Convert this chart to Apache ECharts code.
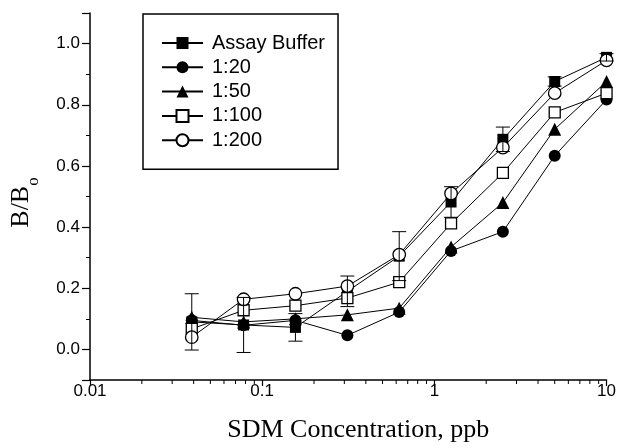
<!DOCTYPE html>
<html><head><meta charset="utf-8">
<script src="https://cdn.jsdelivr.net/npm/echarts@6/dist/echarts.min.js"></script>
<style>html,body{margin:0;padding:0;background:#fff}#c{width:619px;height:448px}</style>
</head><body><div id="c"></div>
<script>
const concentrations = [0.039, 0.078, 0.156, 0.3125, 0.625, 1.25, 2.5, 5, 10];
const assayBuffer   = [0.09, 0.08, 0.072, 0.19, 0.305, 0.482, 0.687, 0.876, 0.955];
const assayBufferSD = [0.092, 0.09, 0.045, 0.05, 0.08, 0.05, 0.04, 0.015, 0.012];
const dil1to20  = [0.095, 0.079, 0.095, 0.046, 0.122, 0.322, 0.385, 0.633, 0.817];
const dil1to50  = [0.105, 0.09, 0.1, 0.113, 0.135, 0.335, 0.48, 0.72, 0.876];
const dil1to100 = [0.067, 0.128, 0.143, 0.168, 0.22, 0.412, 0.577, 0.775, 0.838];
const dil1to200 = [0.04, 0.164, 0.182, 0.207, 0.31, 0.51, 0.66, 0.838, 0.945];
const xMinorTicks = [0.02,0.03,0.04,0.05,0.06,0.07,0.08,0.09,0.2,0.3,0.4,0.5,0.6,0.7,0.8,0.9,2,3,4,5,6,7,8,9];
const seriesNames = ['Assay Buffer', '1:20', '1:50', '1:100', '1:200'];

const pts = arr => concentrations.map((c, i) => [c, arr[i]]);
const SANS = 'Liberation Sans';
const SERIF = 'Liberation Serif';

function lineSeries(name, arr, symbol, size, open) {
  return {
    name, type: 'line', data: pts(arr), symbol, symbolSize: size,
    itemStyle: open ? {color: '#fff', borderColor: '#000', borderWidth: 1.3} : {color: '#000', borderColor: '#000', borderWidth: 0},
    lineStyle: {color: '#000', width: 1},
    emphasis: {disabled: true}, animation: false
  };
}

const chart = echarts.init(document.getElementById('c'), null, {renderer: 'canvas'});
chart.setOption({
  animation: false,
  grid: {left: 90, right: 11, top: 13, bottom: 65, containLabel: false},
  legend: {
    orient: 'vertical', left: 143, top: 14,
    padding: [19, 13, 19, 18],
    borderColor: '#000', borderWidth: 1.5,
    itemWidth: 41, itemHeight: 15, itemGap: 4.3,
    textStyle: {fontFamily: SANS, fontSize: 20, color: '#000', lineHeight: 20, padding: [0, 0, 0, 4]},
    data: seriesNames,
    selectedMode: false
  },
  xAxis: {
    type: 'log', logBase: 10, min: 0.01, max: 10,
    name: 'SDM Concentration, ppb', nameLocation: 'middle', nameGap: 37,
    nameTextStyle: {fontFamily: SERIF, fontSize: 26, color: '#000', padding: [0, 0, 0, 20]},
    axisLine: {onZero: false, lineStyle: {color: '#000', width: 1.5}},
    axisTick: {length: 6, lineStyle: {color: '#000', width: 1.2}},
    splitLine: {show: false},
    axisLabel: {margin: 3, fontFamily: SANS, fontSize: 17, color: '#000'}
  },
  yAxis: {
    type: 'value', min: -0.1, max: 1.1,
    name: '{b|B/B}{s|o}', nameLocation: 'middle', nameRotate: 90, nameGap: 48,
    nameTextStyle: {
      fontFamily: SERIF, fontSize: 26, color: '#000', padding: [0, 12, 0, 0],
      rich: {
        b: {fontFamily: SERIF, fontSize: 26, color: '#000', lineHeight: 26, verticalAlign: 'top'},
        s: {fontFamily: SERIF, fontSize: 17, color: '#000', lineHeight: 34, verticalAlign: 'bottom'}
      }
    },
    axisLine: {onZero: false, lineStyle: {color: '#000', width: 1.5}},
    axisTick: {length: 8, lineStyle: {color: '#000', width: 1.2}},
    minorTick: {show: true, splitNumber: 2, length: 4, lineStyle: {color: '#000', width: 1}},
    splitLine: {show: false},
    axisLabel: {
      margin: 10, fontFamily: SANS, fontSize: 17, color: '#000',
      formatter: v => (v < -0.05 || v > 1.05) ? '' : v.toFixed(1)
    }
  },
  series: [
    lineSeries('Assay Buffer', assayBuffer, 'rect', 11, false),
    lineSeries('1:20', dil1to20, 'circle', 12, false),
    lineSeries('1:50', dil1to50, 'triangle', 13, false),
    lineSeries('1:100', dil1to100, 'rect', 11, true),
    lineSeries('1:200', dil1to200, 'circle', 12.5, true),
    {
      type: 'custom', name: 'errorbars', z: 5, silent: true, clip: false,
      data: concentrations.map((c, i) => [c, assayBuffer[i], assayBufferSD[i]]),
      encode: {x: 0, y: 1},
      renderItem: (params, api) => {
        const x = api.value(0), y = api.value(1), e = api.value(2);
        const t = api.coord([x, y + e]), b = api.coord([x, y - e]);
        const hw = 7, st = {stroke: '#000', lineWidth: 1};
        return {type: 'group', children: [
          {type: 'line', shape: {x1: t[0], y1: t[1], x2: b[0], y2: b[1]}, style: st},
          {type: 'line', shape: {x1: t[0] - hw, y1: t[1], x2: t[0] + hw, y2: t[1]}, style: st},
          {type: 'line', shape: {x1: b[0] - hw, y1: b[1], x2: b[0] + hw, y2: b[1]}, style: st}
        ]};
      }
    },
    {
      type: 'custom', name: 'xminor', silent: true, clip: false,
      data: xMinorTicks.map(v => [v, -0.1]),
      encode: {x: 0, y: 1},
      renderItem: (params, api) => {
        const p = api.coord([api.value(0), api.value(1)]);
        return {type: 'line', shape: {x1: p[0], y1: p[1], x2: p[0], y2: p[1] + 4}, style: {stroke: '#000', lineWidth: 1}};
      }
    }
  ]
});
</script></body></html>
